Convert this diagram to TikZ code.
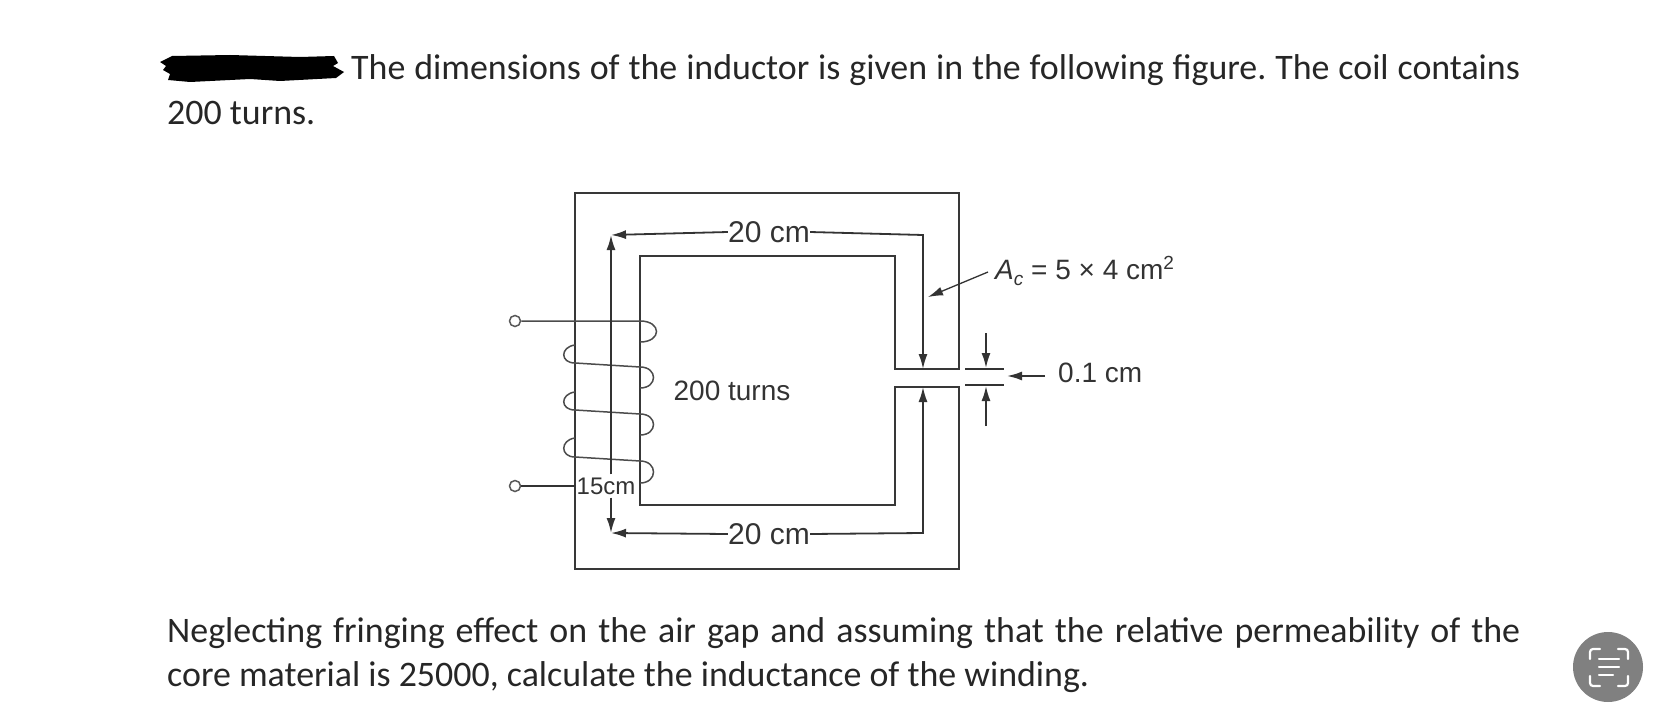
\documentclass[tikz,border=0pt]{standalone}
\usepackage{fontspec}
\setmainfont{Carlito}
\setsansfont{Liberation Sans}
\usetikzlibrary{arrows.meta}
\frenchspacing
\tikzset{
  para/.style={anchor=base west,inner sep=0pt,font=\fontsize{35.9}{36}\selectfont,text=black!85},
  dimlabel/.style={inner sep=0pt,font=\sffamily\fontsize{28}{28}\selectfont,text=black!80},
  coreline/.style={line width=2pt,black!78},
  dimline/.style={line width=1.8pt,black!80},
  wire/.style={line width=1.5pt,black!70},
  terminal/.style={circle,draw=black!65,line width=1.5pt,fill=white,inner sep=0pt,minimum size=11pt},
  iconline/.style={white,line width=2.2pt,line cap=round,rounded corners=3pt}
}
\begin{document}
\begin{tikzpicture}[x=1pt,y=-1pt]
        \tikzset{>={Latex[length=15pt,width=9pt]}}
        \useasboundingbox (0,0) rectangle (1668,725);
        % question text
        \fill[black] (160,62) -- (172,56) -- (230,55) -- (300,57) -- (334,56) -- (338,63) -- (333,66) -- (344,72) -- (336,78) -- (280,81) -- (250,79) -- (190,82) -- (168,80) -- (170,74) -- (163,70) -- (166,66) -- cycle;
        \node[para] (line1) at (351,79) {\makebox[1169pt][s]{The dimensions of the inductor is given in the following figure. The coil contains}};
        \node[para] (line2) at (167,124) {200 turns.};
        \node[para] (line3) at (167,642) {\makebox[1353pt][s]{Neglecting fringing effect on the air gap and assuming that the relative permeability of the}};
        \node[para] (line4) at (167,686) {core material is 25000, calculate the inductance of the winding.};
        % core
        \draw[coreline] (895,369) -- (895,256) -- (640,256) -- (640,505) -- (895,505) -- (895,387) -- (959,387) -- (959,569) -- (575,569) -- (575,193) -- (959,193) -- (959,369) -- cycle;
        % winding
        \node[terminal] (T1) at (515,321) {};
        \node[terminal] (T2) at (515,486) {};
        \coordinate (W1) at (640,321);
        \coordinate (W2) at (575,486);
        \draw[wire] (T1) -- (W1) .. controls (662,321) and (662,342) .. (640,342);
        \draw[wire] (575,345) .. controls (560,347) and (560,363) .. (575,363) -- (640,367) .. controls (658,367) and (658,388) .. (640,388);
        \draw[wire] (575,392) .. controls (560,394) and (560,410) .. (575,410) -- (640,414) .. controls (658,414) and (658,435) .. (640,435);
        \draw[wire] (575,438) .. controls (560,440) and (560,457) .. (575,457) -- (640,461) .. controls (658,461) and (658,483) .. (640,483);
        \draw[dimline] (T2) -- (W2);
        % dimensions
        \node[dimlabel,font=\sffamily\fontsize{30}{30}\selectfont] (top) at (769,232) {20 cm};
        \node[dimlabel,font=\sffamily\fontsize{30}{30}\selectfont] (bot) at (769,534) {20 cm};
        \node[dimlabel,font=\sffamily\fontsize{24}{24}\selectfont,fill=white,inner xsep=1pt,inner ysep=3pt] (side) at (606,486) {15cm};
        \node[dimlabel] (turns) at (732,391) {200 turns};
        \node[dimlabel,anchor=west] (area) at (995,271) {\textit{A}\raisebox{-6pt}{\fontsize{19}{19}\selectfont\textit{c}} = 5 × 4 cm\raisebox{10pt}{\fontsize{19}{19}\selectfont 2}};
        \node[dimlabel,anchor=west] (gap) at (1058,373) {0.1 cm};
        \coordinate (TL) at (611,235);
        \coordinate (TR) at (923,235);
        \coordinate (BL) at (611,533);
        \coordinate (BR) at (923,533);
        \coordinate (GT) at (923,369);
        \coordinate (GB) at (923,387);
        \draw[dimline,->] (top.west) -- (TL);
        \draw[dimline,->] (top.east) -- (TR) -- (GT);
        \draw[dimline,->] (bot.west) -- (BL);
        \draw[dimline,->] (bot.east) -- (BR) -- (GB);
        \draw[dimline,->] (side.north -| TL) -- (TL);
        \draw[dimline,->] (side.south -| BL) -- (BL);
        % area and gap arrows
        \coordinate (AC) at (928,297);
        \draw[line width=1.3pt,black!80,->] (area.west) ++(-7,1) -- (AC);
        \coordinate (G1) at (965,369);
        \coordinate (G2) at (1004,369);
        \coordinate (G3) at (965,385);
        \coordinate (G4) at (1004,385);
        \draw[dimline] (G1) -- (G2);
        \draw[dimline] (G3) -- (G4);
        \coordinate (A1) at (986,333);
        \coordinate (A2) at (986,368);
        \coordinate (A3) at (986,426);
        \coordinate (A4) at (986,386);
        \coordinate (A5) at (1045,376);
        \coordinate (A6) at (1007,376);
        \draw[dimline,->] (A1) -- (A2);
        \draw[dimline,->] (A3) -- (A4);
        \draw[dimline,->] (A5) -- (A6);
        % scan button
        \fill[black!50] (1608,667) circle (35);
        \draw[iconline] (1590,659) -- (1590,649) -- (1600,649);
        \draw[iconline] (1618,649) -- (1628,649) -- (1628,659);
        \draw[iconline] (1590,676) -- (1590,686) -- (1600,686);
        \draw[iconline] (1618,686) -- (1628,686) -- (1628,676);
        \draw[iconline] (1599,659) -- (1619,659);
        \draw[iconline] (1599,667) -- (1619,667);
        \draw[iconline] (1599,675) -- (1613,675);
    \end{tikzpicture}
\end{document}
